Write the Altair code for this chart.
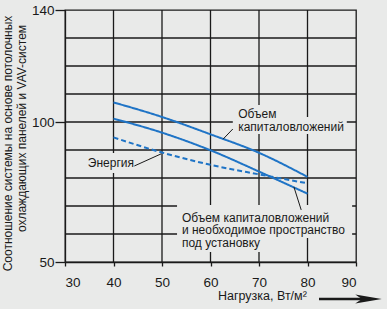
import altair as alt
import pandas as pd

# ---- data ----
loads = [40, 50, 60, 70, 80]
capital = [107.0, 101.8, 95.6, 89.0, 80.4]          # Объем капиталовложений
capital_space = [101.2, 96.2, 89.9, 82.3, 74.4]     # ... и необходимое пространство
energy = [94.5, 89.1, 84.7, 81.3, 78.1]             # Энергия (dashed)

x_ticks = [30, 40, 50, 60, 70, 80, 90]
y_ticks = [50, 100, 140]
x_grid = [40, 50, 60, 70, 80]
y_grid = [60, 70, 80, 90, 100, 110, 120, 130]

BG = "#e9eae9"
BLUE = "#1f74c6"
INK = "#1a1a1a"
FONT = "Liberation Sans"

series_names = ["cap", "space", "energy"]
rows = []
for name, vals in zip(series_names, [capital, capital_space, energy]):
    for xv, yv in zip(loads, vals):
        rows.append({"load": xv, "val": yv, "series": name})
lines_df = pd.DataFrame(rows)

# annotation texts (multi-line, anchor = first baseline, left aligned)
label_text = [["Объем", "капиталовложений"],
              ["Энергия"],
              ["Объем капиталовложений", "и необходимое пространство", "под установку"]]
label_x = [65.7, 34.7, 54.1]
label_y = [101.3, 83.9, 64.4]
labels_df = pd.DataFrame({"t": label_text, "x": label_x, "y": label_y})

# background boxes behind labels (hide grid)
box_x1 = [65.0, 64.6, 34.1, 53.1, 53.1]
box_x2 = [74.5, 88.1, 44.6, 89.2, 71.2]
box_y1 = [106.1, 101.8, 88.9, 70.4, 59.3]
box_y2 = [100.7, 95.7, 81.8, 58.6, 53.6]
boxes_df = pd.DataFrame({"x1": box_x1, "x2": box_x2, "y1": box_y1, "y2": box_y2})

# leader lines
lead_x1 = [62.6, 44.3, 77.2]
lead_y1 = [93.9, 84.3, 76.8]
lead_x2 = [64.6, 49.8, 78.7]
lead_y2 = [97.5, 88.6, 68.6]
leaders_df = pd.DataFrame({"x1": lead_x1, "y1": lead_y1, "x2": lead_x2, "y2": lead_y2})

y_title = ["Соотношение системы на основе потолочных", "охлаждающих панелей и VAV-систем"]
x_title = ["Нагрузка, Вт/м²"]

xs = alt.Scale(domain=[30, 90], nice=False, zero=False)
ys = alt.Scale(domain=[50, 140], nice=False, zero=False)

xaxis = alt.Axis(values=x_ticks, title=None, grid=False, tickSize=4, tickWidth=1.3,
                 tickColor=INK, domainColor=INK, domainWidth=1.3,
                 labelFont=FONT, labelFontSize=13.5, labelColor=INK, labelPadding=9)
yaxis = alt.Axis(values=y_ticks, title=None, grid=False, tickSize=10, tickWidth=1.3,
                 tickColor=INK, domainColor=INK, domainWidth=1.3,
                 labelFont=FONT, labelFontSize=13.5, labelColor=INK, labelPadding=1)

base_x = alt.X("load:Q", scale=xs, axis=xaxis)
base_y = alt.Y("val:Q", scale=ys, axis=yaxis)

vgrid = alt.Chart(pd.DataFrame({"g": x_grid})).mark_rule(color=INK, strokeWidth=1.3).encode(
    x=alt.X("g:Q", scale=xs, axis=xaxis))
hgrid = alt.Chart(pd.DataFrame({"g": y_grid})).mark_rule(color=INK, strokeWidth=1.3).encode(
    y=alt.Y("g:Q", scale=ys, axis=yaxis))

boxes = alt.Chart(boxes_df).mark_rect(color=BG).encode(
    x=alt.X("x1:Q", scale=xs), x2="x2:Q", y=alt.Y("y1:Q", scale=ys), y2="y2:Q")

lines = alt.Chart(lines_df).mark_line(strokeWidth=2, interpolate="monotone").encode(
    x=base_x, y=base_y,
    color=alt.Color("series:N", scale=alt.Scale(domain=series_names, range=[BLUE, BLUE, BLUE]), legend=None),
    strokeDash=alt.StrokeDash("series:N", scale=alt.Scale(domain=series_names, range=[[1, 0], [1, 0], [5, 3]]), legend=None),
)

leaders = alt.Chart(leaders_df).mark_rule(color=INK, strokeWidth=1).encode(
    x=alt.X("x1:Q", scale=xs), y=alt.Y("y1:Q", scale=ys), x2="x2:Q", y2="y2:Q")

texts = alt.Chart(labels_df).mark_text(align="left", baseline="alphabetic", font=FONT,
                                        fontSize=12, lineHeight=12.5, color=INK).encode(
    x=alt.X("x:Q", scale=xs), y=alt.Y("y:Q", scale=ys), text="t")

yt1 = alt.Chart(pd.DataFrame({"t": [y_title[0]]})).mark_text(
    angle=270, align="center", baseline="middle", font=FONT, fontSize=12, color=INK).encode(
    x=alt.value(-57), y=alt.value(133.5), text="t:N")
yt2 = alt.Chart(pd.DataFrame({"t": [y_title[1]]})).mark_text(
    angle=270, align="center", baseline="middle", font=FONT, fontSize=12, color=INK).encode(
    x=alt.value(-43), y=alt.value(118.5), text="t:N")
xt = alt.Chart(pd.DataFrame({"t": x_title})).mark_text(
    align="left", baseline="alphabetic", font=FONT, fontSize=12.5, color=INK).encode(
    x=alt.value(153), y=alt.value(290), text="t:N")

shaft = alt.Chart(pd.DataFrame({"t": x_title})).mark_rule(color=INK, strokeWidth=2.5).encode(
    x=alt.value(254), x2=alt.value(298), y=alt.value(289))
head = alt.Chart(pd.DataFrame({"t": x_title})).mark_point(
    shape="M -1 -0.34 L 1 0 L -1 0.34 L -0.5 0 Z", filled=True, size=700, color=INK, opacity=1).encode(
    x=alt.value(303.5), y=alt.value(289))

chart = alt.layer(vgrid, hgrid, boxes, lines, leaders, texts, yt1, yt2, xt, shaft, head).properties(
    width=291, height=252,
    background=BG,
    padding={"left": 65, "top": 10, "right": 31, "bottom": 47},
    autosize=alt.AutoSizeParams(type="none"),
).configure_view(stroke=INK, strokeWidth=1.3)

chart.save("out.html", embed_options={"renderer": "svg", "actions": False})
